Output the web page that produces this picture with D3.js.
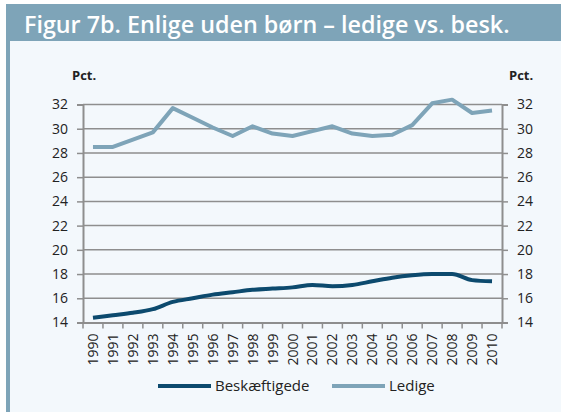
<!DOCTYPE html>
<html>
<head>
<meta charset="utf-8">
<script src="https://cdn.jsdelivr.net/npm/d3@7"></script>
<style>
  body { margin: 0; background: #fff; }
  svg { display: block; font-family: "Open Sans", sans-serif; }
</style>
</head>
<body>
<script>
// data
const years = d3.range(1990, 2011).map(String)
const beskaeftigede = [14.4, 14.6, 14.8, 15.1, 15.7, 16.0, 16.3, 16.5, 16.7, 16.8, 16.9,
    17.1, 17.0, 17.1, 17.4, 17.7, 17.9, 18.0, 18.0, 17.5, 17.4]
const ledige = [28.5, 28.5, 29.1, 29.7, 31.7, 30.9, 30.1, 29.4, 30.2, 29.6, 29.4,
    29.8, 30.2, 29.6, 29.4, 29.5, 30.3, 32.1, 32.4, 31.3, 31.5]
const yTicks = [14, 16, 18, 20, 22, 24, 26, 28, 30, 32]
const seriesNames = ['Beskæftigede', 'Ledige']
const title = 'Figur 7b. Enlige uden børn – ledige vs. besk.'

const W = 561, H = 412
const bar = '#7ea4b8', dark = '#0c4a6e', grid = '#8e8e8e'

let svg = d3.select('body').append('svg')
    .attr('width', W)
    .attr('height', H)

// panel + frame
svg.append('rect').attr('x', 6).attr('y', 4).attr('width', W - 6).attr('height', H - 4).attr('fill', '#f3f8fc')
svg.append('rect').attr('x', 6).attr('y', 4).attr('width', W - 6).attr('height', 37).attr('fill', bar)
svg.append('rect').attr('x', 6).attr('y', 4).attr('width', 4).attr('height', H - 4).attr('fill', bar)

svg.append('text')
    .attr('x', 24).attr('y', 33)
    .attr('fill', '#fff')
    .attr('font-size', 23.3)
    .attr('font-weight', 600)
    .text(title)

// scales
let xScale = d3.scaleBand().domain(years).range([83, 502])
let yScale = d3.scaleLinear().domain([14, 32]).range([322.5, 104.5])
let cx = d => xScale(d) + xScale.bandwidth() / 2

// gridlines
svg.append('g').selectAll('line')
    .data(yTicks.slice(1))
    .enter().append('line')
    .attr('x1', 83).attr('x2', 502)
    .attr('y1', d => yScale(d)).attr('y2', d => yScale(d))
    .attr('stroke', grid).attr('stroke-width', 1.5)

// left & right axes
let leftAxis = svg.append('g')
    .attr('transform', 'translate(83,0)')
    .call(d3.axisLeft(yScale).tickValues(yTicks).tickSize(6).tickPadding(9))
let rightAxis = svg.append('g')
    .attr('transform', 'translate(502,0)')
    .call(d3.axisRight(yScale).tickValues(yTicks).tickSize(6).tickPadding(9))

;[leftAxis, rightAxis].forEach(g => {
    g.select('.domain').attr('stroke', grid).attr('stroke-width', 2)
    g.selectAll('.tick line').attr('stroke', grid).attr('stroke-width', 1.5)
    g.selectAll('.tick text').attr('font-size', 14).attr('fill', '#222').attr('font-family', 'Open Sans')
})

// bottom axis: labels at centres, ticks at band edges
let xAxis = svg.append('g')
    .attr('transform', 'translate(0,322.5)')
    .call(d3.axisBottom(xScale).tickSize(0).tickPadding(0))
xAxis.select('.domain').attr('stroke', grid).attr('stroke-width', 2)
xAxis.selectAll('.tick text')
    .attr('font-size', 14).attr('fill', '#222').attr('font-family', 'Open Sans')
    .attr('text-anchor', 'end')
    .attr('transform', 'translate(5,11) rotate(-90)')
    .attr('dy', 0).attr('y', 0)

svg.append('g').selectAll('line')
    .data(years.map(d => xScale(d)).concat([xScale.range()[1]]))
    .enter().append('line')
    .attr('x1', d => d).attr('x2', d => d)
    .attr('y1', 322.5).attr('y2', 328.5)
    .attr('stroke', grid).attr('stroke-width', 1.5)

// "Pct." labels
svg.append('text').attr('x', 72).attr('y', 80).attr('font-size', 13).attr('font-weight', 700).attr('fill', '#222').text('Pct.')
svg.append('text').attr('x', 509).attr('y', 80).attr('font-size', 13).attr('font-weight', 700).attr('fill', '#222').text('Pct.')

// lines
let lineLinear = d3.line()
    .x((d, i) => cx(years[i]))
    .y(d => yScale(d))
let lineSmooth = d3.line()
    .x((d, i) => cx(years[i]))
    .y(d => yScale(d))
    .curve(d3.curveMonotoneX)

svg.append('path').datum(ledige)
    .attr('d', lineLinear).attr('fill', 'none')
    .attr('stroke', bar).attr('stroke-width', 4).attr('stroke-linejoin', 'round')
svg.append('path').datum(beskaeftigede)
    .attr('d', lineSmooth).attr('fill', 'none')
    .attr('stroke', dark).attr('stroke-width', 4).attr('stroke-linejoin', 'round')

// legend
let legend = [
    { name: seriesNames[0], color: dark, x: 158 },
    { name: seriesNames[1], color: bar, x: 332 }
]
let lg = svg.append('g').selectAll('g')
    .data(legend)
    .enter().append('g')
    .attr('transform', d => 'translate(' + d.x + ',386)')
lg.append('line').attr('x1', 0).attr('x2', 53)
    .attr('stroke', d => d.color).attr('stroke-width', 4)
lg.append('text').attr('x', 57).attr('y', 5)
    .attr('font-size', 15).attr('fill', '#222')
    .text(d => d.name)
</script>
</body>
</html>
